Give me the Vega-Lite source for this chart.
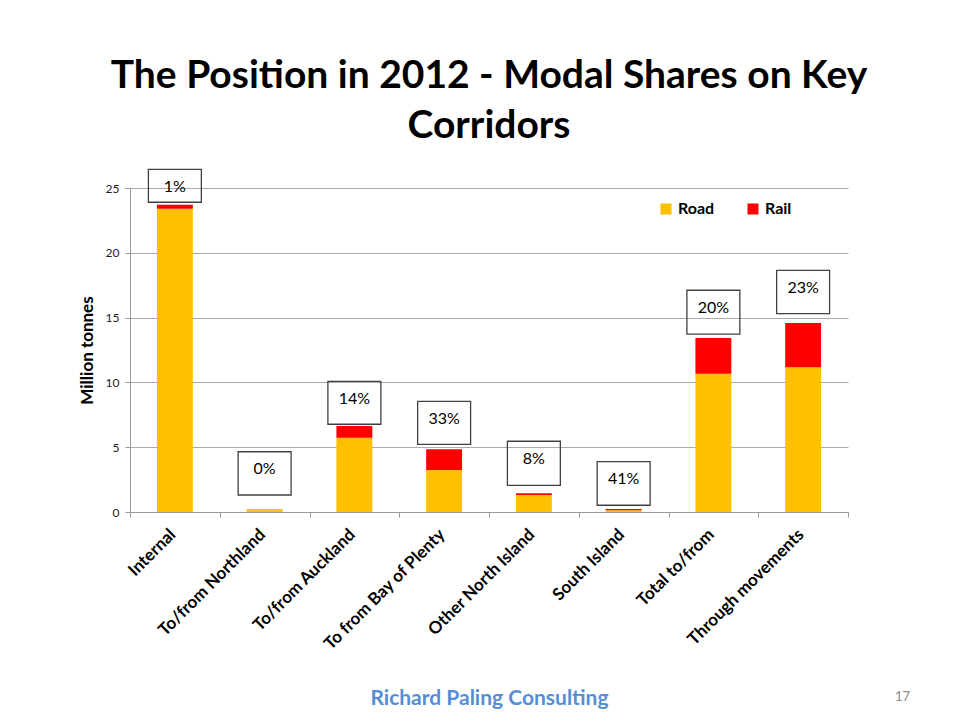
{
  "$schema": "https://vega.github.io/schema/vega-lite/v6.json",
  "width": 718,
  "height": 324,
  "autosize": {"type": "none"},
  "padding": {"left": 130, "top": 188, "right": 106, "bottom": 210},
  "background": "white",
  "config": {"view": {"stroke": null}, "font": "Lato"},
  "title": {
    "text": ["The Position in 2012 - Modal Shares on Key", "Corridors"],
    "font": "Lato",
    "fontSize": 39,
    "fontWeight": "bold",
    "color": "#000000",
    "anchor": "middle",
    "lineHeight": 50,
    "baseline": "bottom",
    "offset": -16
  },
  "datasets": {
    "flows": [
      {"Corridor": "Internal", "Mode": "Road", "Value": 23.4},
      {"Corridor": "Internal", "Mode": "Rail", "Value": 0.3},
      {"Corridor": "To/from Northland", "Mode": "Road", "Value": 0.23},
      {"Corridor": "To/from Northland", "Mode": "Rail", "Value": 0.0},
      {"Corridor": "To/from Auckland", "Mode": "Road", "Value": 5.73},
      {"Corridor": "To/from Auckland", "Mode": "Rail", "Value": 0.91},
      {"Corridor": "To from Bay of Plenty", "Mode": "Road", "Value": 3.24},
      {"Corridor": "To from Bay of Plenty", "Mode": "Rail", "Value": 1.6},
      {"Corridor": "Other North Island", "Mode": "Road", "Value": 1.31},
      {"Corridor": "Other North Island", "Mode": "Rail", "Value": 0.13},
      {"Corridor": "South Island", "Mode": "Road", "Value": 0.14},
      {"Corridor": "South Island", "Mode": "Rail", "Value": 0.1},
      {"Corridor": "Total to/from", "Mode": "Road", "Value": 10.67},
      {"Corridor": "Total to/from", "Mode": "Rail", "Value": 2.76},
      {"Corridor": "Through movements", "Mode": "Road", "Value": 11.16},
      {"Corridor": "Through movements", "Mode": "Rail", "Value": 3.42}
    ],
    "shares": [
      {"Corridor": "Internal", "Share": "1%", "BoxTop": 26.44, "BoxBottom": 23.9},
      {"Corridor": "To/from Northland", "Share": "0%", "BoxTop": 4.65, "BoxBottom": 1.31},
      {"Corridor": "To/from Auckland", "Share": "14%", "BoxTop": 10.08, "BoxBottom": 6.77},
      {"Corridor": "To from Bay of Plenty", "Share": "33%", "BoxTop": 8.54, "BoxBottom": 5.22},
      {"Corridor": "Other North Island", "Share": "8%", "BoxTop": 5.46, "BoxBottom": 2.06},
      {"Corridor": "South Island", "Share": "41%", "BoxTop": 3.88, "BoxBottom": 0.52},
      {"Corridor": "Total to/from", "Share": "20%", "BoxTop": 17.11, "BoxBottom": 13.73},
      {"Corridor": "Through movements", "Share": "23%", "BoxTop": 18.65, "BoxBottom": 15.3}
    ]
  },
  "encoding": {
    "x": {
      "field": "Corridor",
      "type": "nominal",
      "scale": {
        "domain": ["Internal", "To/from Northland", "To/from Auckland", "To from Bay of Plenty", "Other North Island", "South Island", "Total to/from", "Through movements"],
        "paddingInner": 0,
        "paddingOuter": 0
      },
      "axis": {
        "title": "Richard Paling Consulting",
        "titleFont": "Lato",
        "titleFontSize": 21,
        "titleFontWeight": "bold",
        "titleColor": "#558ED5",
        "titleY": 186,
        "titleBaseline": "middle",
        "labelAngle": -45,
        "labelFont": "Lato",
        "labelFontSize": 17,
        "labelFontWeight": "bold",
        "labelColor": "#000000",
        "labelOffset": -8,
        "labelPadding": 9,
        "labelLimit": 0,
        "tickBand": "extent",
        "tickSize": 5,
        "tickColor": "#999999",
        "domainColor": "#999999",
        "grid": false
      }
    }
  },
  "layer": [
    {
      "data": {"name": "flows"},
      "mark": {"type": "bar", "width": {"band": 0.4}},
      "encoding": {
        "y": {
          "field": "Value",
          "type": "quantitative",
          "stack": "zero",
          "scale": {"domain": [0, 25], "nice": false},
          "axis": {
            "title": "Million tonnes",
            "titleFont": "Lato",
            "titleFontSize": 17,
            "titleFontWeight": "bold",
            "titleColor": "#000000",
            "titlePadding": 9,
            "values": [0, 5, 10, 15, 20, 25],
            "labelFont": "Lato",
            "labelFontSize": 12,
            "labelColor": "#222222",
            "labelPadding": 6,
            "tickSize": 5,
            "tickColor": "#999999",
            "domainColor": "#999999",
            "grid": true,
            "gridColor": "#aaaaaa"
          }
        },
        "color": {
          "field": "Mode",
          "type": "nominal",
          "scale": {"domain": ["Road", "Rail"], "range": ["#FFC000", "#FF0000"]},
          "legend": {
            "title": null,
            "orient": "none",
            "legendX": 528,
            "legendY": 13,
            "direction": "horizontal",
            "symbolType": "square",
            "symbolSize": 121,
            "symbolStrokeWidth": 0,
            "labelFont": "Lato",
            "labelFontSize": 16,
            "labelFontWeight": "bold",
            "labelColor": "#000000",
            "labelOffset": 4,
            "columnPadding": 30
          }
        },
        "order": {"field": "Mode", "sort": "descending"}
      }
    },
    {
      "data": {"name": "shares"},
      "mark": {"type": "bar", "width": {"band": 0.59}, "fill": "transparent", "stroke": "#404040", "strokeWidth": 1.3},
      "encoding": {
        "y": {
          "field": "BoxTop",
          "type": "quantitative",
          "axis": {
            "orient": "right",
            "title": "17",
            "titleAngle": 0,
            "titleX": 54,
            "titleY": 515,
            "titleFont": "Lato",
            "titleFontSize": 13,
            "titleFontWeight": "normal",
            "titleColor": "#8c8c8c",
            "labels": false,
            "ticks": false,
            "domain": false,
            "grid": false
          }
        },
        "y2": {"field": "BoxBottom"}
      }
    },
    {
      "data": {"name": "shares"},
      "mark": {"type": "text", "dy": 17.5, "baseline": "middle", "align": "center", "font": "Lato", "fontSize": 16, "color": "#000000"},
      "encoding": {
        "y": {"field": "BoxTop", "type": "quantitative", "axis": null},
        "text": {"field": "Share"}
      }
    }
  ],
  "resolve": {"axis": {"y": "independent"}}
}
